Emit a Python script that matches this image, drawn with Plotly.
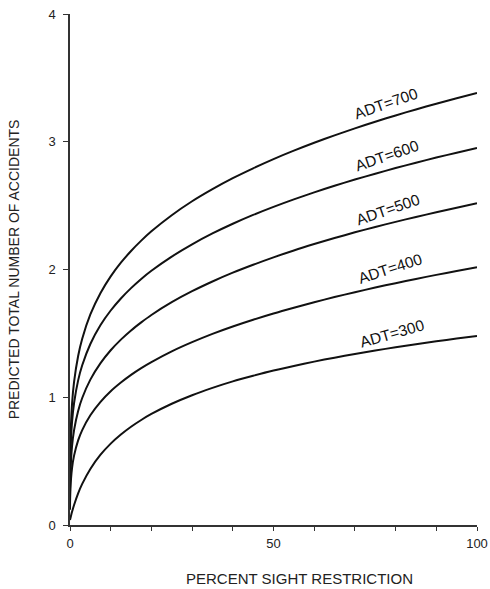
import plotly.graph_objects as go

# Percent sight restriction (x) and predicted total accidents per ADT level
x_pct = [0, 0.1, 0.5, 1, 2, 3, 5, 7.5, 10, 12.5, 15, 17.5, 20, 25, 30, 35, 40, 45, 50,
         55, 60, 65, 70, 75, 80, 85, 90, 95, 100]

adt_700 = [0.30, 0.644, 0.948, 1.120, 1.323, 1.458, 1.648, 1.816, 1.946, 2.053, 2.145, 2.226, 2.299,
           2.425, 2.534, 2.629, 2.715, 2.792, 2.864, 2.930, 2.992, 3.050, 3.105, 3.157, 3.206, 3.253,
           3.298, 3.341, 3.382]
adt_600 = [0.25, 0.543, 0.806, 0.955, 1.132, 1.250, 1.417, 1.565, 1.679, 1.773, 1.854, 1.926, 1.990,
           2.101, 2.197, 2.282, 2.358, 2.427, 2.490, 2.549, 2.604, 2.656, 2.704, 2.750, 2.794, 2.836,
           2.876, 2.914, 2.951]
adt_500 = [0.20, 0.404, 0.618, 0.743, 0.893, 0.994, 1.138, 1.267, 1.368, 1.451, 1.523, 1.586, 1.644,
           1.744, 1.830, 1.906, 1.975, 2.037, 2.095, 2.149, 2.199, 2.246, 2.291, 2.333, 2.373, 2.411,
           2.448, 2.484, 2.518]
adt_400 = [0.12, 0.282, 0.446, 0.543, 0.662, 0.743, 0.859, 0.964, 1.047, 1.115, 1.175, 1.228, 1.275,
           1.359, 1.431, 1.496, 1.554, 1.607, 1.656, 1.701, 1.744, 1.784, 1.822, 1.859, 1.893, 1.926,
           1.958, 1.988, 2.017]
adt_300 = [0.04, 0.053, 0.103, 0.157, 0.248, 0.322, 0.439, 0.550, 0.637, 0.708, 0.769, 0.822, 0.869,
           0.949, 1.016, 1.073, 1.124, 1.168, 1.209, 1.245, 1.279, 1.310, 1.339, 1.366, 1.391, 1.415,
           1.438, 1.459, 1.479]

series = [("ADT=700", adt_700), ("ADT=600", adt_600), ("ADT=500", adt_500),
          ("ADT=400", adt_400), ("ADT=300", adt_300)]

# label anchor positions (data coords)
label_x = [77.6, 77.9, 78.1, 78.6, 79.1]
label_y = [3.30, 2.89, 2.47, 2.01, 1.50]
label_angle = [-19, -19, -19, -18, -16]

x_tickvals = [0, 50, 100]
y_tickvals = [0, 1, 2, 3, 4]

fig = go.Figure()
for name, ys in series:
    fig.add_trace(go.Scatter(x=x_pct, y=ys, mode="lines", name=name,
                             line=dict(color="#111111", width=2, shape="spline", smoothing=0.8),
                             hoverinfo="skip", showlegend=False))

for (name, _), lx, ly, ang in zip(series, label_x, label_y, label_angle):
    fig.add_annotation(x=lx, y=ly, text=name, showarrow=False, textangle=ang,
                       font=dict(family="Liberation Sans, Arial", size=15.5, color="#111111"))

# x-axis title (placed slightly right of centre, as in the original)
fig.add_annotation(xref="paper", yref="paper", x=0.565, y=-0.105, yanchor="middle",
                   text="PERCENT SIGHT RESTRICTION", showarrow=False,
                   font=dict(family="Liberation Sans, Arial", size=15, color="#222222"))

fig.update_layout(
    width=490, height=589,
    margin=dict(l=70, r=13, t=14, b=64),
    paper_bgcolor="white", plot_bgcolor="white",
    font=dict(family="Liberation Sans, Arial", color="#222222"),
)
fig.update_xaxes(range=[0, 100], tickvals=x_tickvals, ticktext=[str(v) for v in x_tickvals],
                 automargin=False,
                 ticks="outside", ticklen=4, tickwidth=1.2, tickcolor="#333333",
                 minor=dict(dtick=10, ticks="outside", ticklen=4, tickwidth=1, tickcolor="#333333"),
                 showline=True, linecolor="#333333", linewidth=1.5, showgrid=False, zeroline=False,
                 tickfont=dict(size=13, color="#222222"), ticklabelstandoff=2)
fig.update_yaxes(range=[0, 4], tickvals=y_tickvals,
                 automargin=False,
                 ticks="outside", ticklen=5, tickwidth=1.2, tickcolor="#333333",
                 showline=True, linecolor="#333333", linewidth=1.5, showgrid=False, zeroline=False,
                 tickfont=dict(size=13, color="#222222"), ticklabelstandoff=5,
                 title=dict(text="PREDICTED TOTAL NUMBER OF ACCIDENTS", font=dict(size=14, color="#222222"), standoff=26))

fig.write_html("out.html")
